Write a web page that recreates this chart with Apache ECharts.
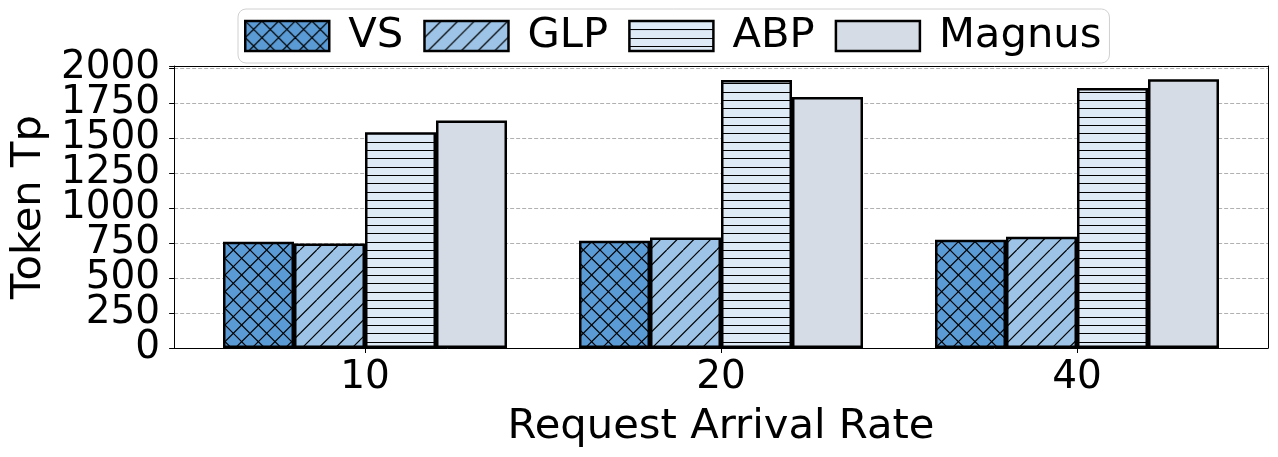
<!DOCTYPE html>
<html>
<head>
<meta charset="utf-8">
<script src="https://cdn.jsdelivr.net/npm/echarts@6/dist/echarts.min.js"></script>
<style>
html, body { margin: 0; padding: 0; background: #fff; }
#main { width: 1278px; height: 457px; }
</style>
</head>
<body>
<div id="main"></div>
<script>
var rates = ['10', '20', '40'];
var names = ['VS', 'GLP', 'ABP', 'Magnus'];
var vs = [759, 766, 773];
var glp = [747, 790, 795];
var abp = [1543, 1916, 1859];
var magnus = [1626, 1795, 1921];

var FONT = 'DejaVu Sans';

/*hatch tiles, like matplotlib x / -- */
function hatch(fill, kind){
    var S = 50;
    var c = document.createElement('canvas');
    c.width = S; c.height = S;
    var g = c.getContext('2d');
    g.fillStyle = fill;
    g.fillRect(0, 0, S, S);
    g.strokeStyle = '#000';
    g.lineWidth = 1.2;
    var s = S / 3;
    if (kind == 'x' || kind == '/'){
        for (var k=-3; k<=3; k++){
            g.beginPath();
            g.moveTo(k*s, S);
            g.lineTo(k*s+S, 0);
            g.stroke();
        }
    }
    if (kind == 'x'){
        for (var k=-3; k<=3; k++){
            g.beginPath();
            g.moveTo(k*s, 0);
            g.lineTo(k*s+S, S);
            g.stroke();
        }
    }
    if (kind == '-'){
        for (var k=0; k<6; k++){
            var y = Math.round(k*S/6) + 0.5;
            g.beginPath();
            g.moveTo(0, y);
            g.lineTo(S, y);
            g.stroke();
        }
    }
    return {image: c, repeat: 'repeat'};
}

var fills = [
    hatch('#5b9bd5', 'x'),
    hatch('#9dc3e6', '/'),
    hatch('#deebf7', '-'),
    '#d6dce5'
];
var values = [vs, glp, abp, magnus];

var series = [];
for (var i=0; i<names.length; i++){
    series.push({
        name: names[i],
        type: 'bar',
        xAxisIndex: 2,
        yAxisIndex: 2,
        barWidth: 71,
        barGap: '0%',
        data: values[i],
        itemStyle: {
            color: fills[i],
            borderColor: '#000',
            borderWidth: 2.5
        },
        emphasis: {disabled: true}
    });
}

// frame axes (no labels), only lines
function frameAxis(pos, isX){
    var a = {
        type: 'value', gridIndex: 0, position: pos, min: 0, max: isX ? 1 : 2016,
        axisLine: {show: true, onZero: false, lineStyle: {color: '#000', width: 1}},
        axisTick: {show: false}, axisLabel: {show: false}, splitLine: {show: false}
    };
    return a;
}

// y labels are split on two axes so echarts doesn't drop the overlapping ones
function yLabels(odd){
    return {
        fontSize: 39, color: '#000', fontFamily: FONT, margin: 14,
        showMinLabel: true, showMaxLabel: true,
        formatter: function(v){
            if (v % 250 != 0) return '';
            var isOdd = (v / 250) % 2 == 1;
            return isOdd == odd ? String(v) : '';
        }
    };
}

var chart = echarts.init(document.getElementById('main'), null, {renderer: 'canvas'});
var option = {
    animation: false,
    textStyle: {fontFamily: FONT},
    legend: {
        data: names,
        left: 238,
        top: 9,
        padding: [6, 8, 6, 6],
        itemWidth: 84,
        itemHeight: 30,
        itemGap: 20,
        icon: 'rect',
        backgroundColor: '#fff',
        borderColor: '#d0d0d0',
        borderWidth: 1,
        borderRadius: 8,
        itemStyle: {borderColor: '#000', borderWidth: 2.5},
        textStyle: {fontSize: 41.7, color: '#000', fontFamily: FONT, padding: [0, 0, 0, 14]}
    },
    grid: [
        {left: 172, right: 10, top: 66, bottom: 109},
        {left: 187, right: 23, top: 66, bottom: 109}
    ],
    xAxis: [
        frameAxis('bottom', true),
        frameAxis('top', true),
        {
            type: 'category', gridIndex: 1, data: rates,
            axisLine: {show: false},
            axisTick: {show: true, alignWithLabel: true, length: 5, lineStyle: {color: '#000'}},
            axisLabel: {fontSize: 39, color: '#000', fontFamily: FONT, margin: 10},
            name: 'Request Arrival Rate',
            nameLocation: 'middle',
            nameGap: 58,
            nameTextStyle: {fontSize: 41.7, color: '#000', fontFamily: FONT}
        }
    ],
    yAxis: [
        {
            type: 'value', gridIndex: 0, position: 'left', min: 0, max: 2016, interval: 250,
            axisLine: {show: true, onZero: false, lineStyle: {color: '#000', width: 1}},
            axisTick: {show: true, length: 5, lineStyle: {color: '#000'}},
            axisLabel: yLabels(false),
            splitLine: {show: true, lineStyle: {color: '#b0b0b0', width: 1, type: [4, 2]}},
            name: 'Token Tp',
            nameLocation: 'middle',
            nameGap: 118,
            nameTextStyle: {fontSize: 41.7, color: '#000', fontFamily: FONT}
        },
        frameAxis('right', false),
        {
            type: 'value', gridIndex: 1, min: 0, max: 2016,
            axisLine: {show: false}, axisTick: {show: false},
            axisLabel: {show: false}, splitLine: {show: false}
        },
        {
            type: 'value', gridIndex: 0, position: 'left', min: 0, max: 2016, interval: 250,
            axisLine: {show: false, onZero: false}, axisTick: {show: false},
            axisLabel: yLabels(true), splitLine: {show: false}
        }
    ],
    series: series
};
chart.setOption(option);
</script>
</body>
</html>
